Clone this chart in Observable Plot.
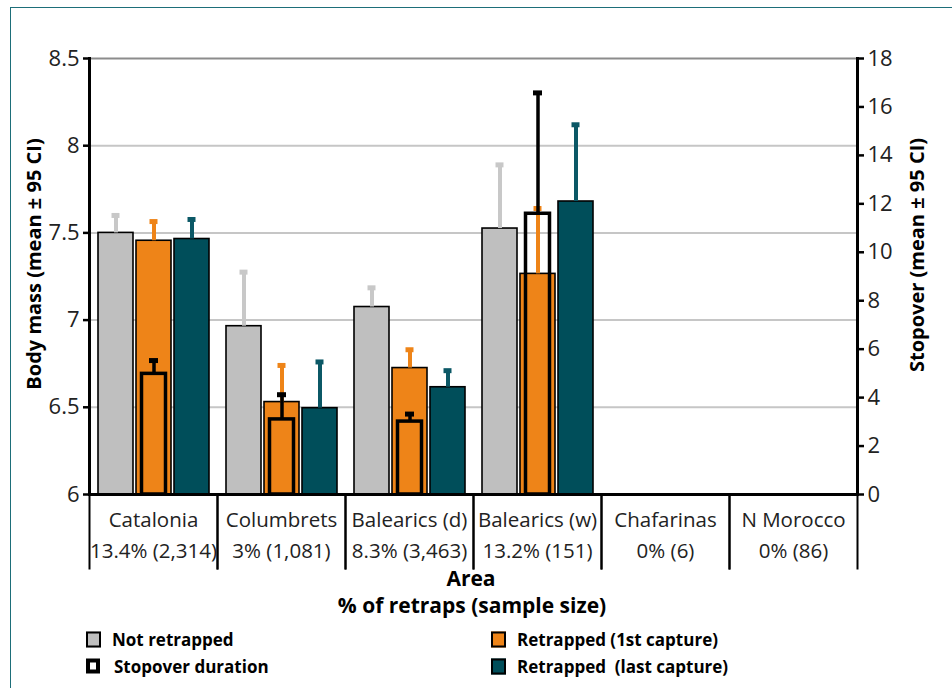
<!DOCTYPE html>
<html>
<head>
<meta charset="utf-8">
<script src="https://cdn.jsdelivr.net/npm/d3@7"></script>
<script src="https://cdn.jsdelivr.net/npm/@observablehq/plot@0.6"></script>
<style>
  html, body { margin: 0; padding: 0; background: #fff; }
  #wrap { position: relative; width: 952px; height: 688px; overflow: hidden; font-family: "Open Sans", sans-serif; }
  #border { position: absolute; left: 10px; top: 7px; width: 960px; height: 700px; border: 1.5px solid #1d6e79; box-sizing: border-box; }
  #chart { position: absolute; left: 0; top: 0; }
  .ttl { position: absolute; font-weight: 700; color: #000; white-space: nowrap; transform: translate(-50%, -50%); }
  .rot { transform: translate(-50%, -50%) rotate(-90deg); }
  .leg { position: absolute; display: flex; align-items: center; font-weight: 700; font-size: 17px; color: #000; white-space: nowrap; transform: translateY(-50%); }
  .sw { width: 15px; height: 16px; box-sizing: border-box; border: 2px solid #000; margin-right: 11px; }
</style>
</head>
<body>
<div id="wrap">
  <div id="border"></div>
  <div id="chart"></div>
  <div class="ttl rot" style="left:33px; top:264px; font-size:20px;">Body mass (mean ± 95 CI)</div>
  <div class="ttl rot" style="left:916px; top:255px; font-size:20px;">Stopover (mean ± 95 CI)</div>
  <div class="ttl" style="left:471px; top:578px; font-size:21px;">Area</div>
  <div class="ttl" style="left:472px; top:605px; font-size:21px;">% of retraps (sample size)</div>
  <div id="legend"></div>
</div>
<script>
// ---- data ----
const areas = ["Catalonia", "Columbrets", "Balearics (d)", "Balearics (w)", "Chafarinas", "N Morocco"];
const retraps = ["13.4% (2,314)", "3% (1,081)", "8.3% (3,463)", "13.2% (151)", "0% (6)", "0% (86)"];
const seriesNames = ["Not retrapped", "Retrapped (1st capture)", "Retrapped  (last capture)"];
const seriesColors = ["#bfbfbf", "#ee8418", "#004e5a"];
const errColors = ["#c8c8c8", "#ee8418", "#0b5866"];

// body mass means and upper 95% CI (no data for Chafarinas, N Morocco)
const notRetrapped      = [7.50, 6.965, 7.075, 7.525, null, null];
const notRetrappedUpper = [7.60, 7.275, 7.185, 7.89, null, null];
const firstCapture      = [7.455, 6.53, 6.725, 7.265, null, null];
const firstCaptureUpper = [7.565, 6.74, 6.83, 7.64, null, null];
const lastCapture       = [7.465, 6.495, 6.615, 7.68, null, null];
const lastCaptureUpper  = [7.577, 6.76, 6.71, 8.12, null, null];
// stopover duration (days) mean and upper 95% CI
const stopover      = [4.98, 3.10, 3.01, 11.59, null, null];
const stopoverUpper = [5.53, 4.12, 3.32, 16.58, null, null];

const massTicks = [6, 6.5, 7, 7.5, 8, 8.5];
const stopTicks = [0, 2, 4, 6, 8, 10, 12, 14, 16, 18];

// ---- derived tables ----
const yMin = 6, yMax = 8.5, sMax = 18;
const toLeft = (s) => s == null ? null : yMin + s * (yMax - yMin) / sMax;
const fromLeft = (v) => Math.round((v - yMin) * sMax / (yMax - yMin));

const means = [notRetrapped, firstCapture, lastCapture];
const uppers = [notRetrappedUpper, firstCaptureUpper, lastCaptureUpper];
const rows = [];
seriesNames.forEach((s, j) => means[j].forEach((m, i) => rows.push({area: areas[i], series: s, mean: m, upper: uppers[j][i], base: m == null ? null : yMin})));
const stopRows = stopover.map((m, i) => ({area: areas[i], series: seriesNames[1], mean: toLeft(m), upper: toLeft(stopoverUpper[i]), base: m == null ? null : yMin}));

const W = 952, H = 575, mT = 58, mB = 81, mL = 88, mR = 95;
const plotH = H - mT - mB;

const chart = Plot.plot({
  width: W, height: H,
  marginTop: mT, marginBottom: mB, marginLeft: mL, marginRight: mR,
  style: {fontFamily: "Open Sans, sans-serif", background: "transparent", overflow: "visible"},
  fx: {domain: areas, padding: 0, label: null},
  x: {domain: seriesNames, paddingInner: 0.08, paddingOuter: 0.22, axis: null},
  y: {domain: [yMin, yMax], label: null},
  color: {domain: seriesNames, range: seriesColors},
  marks: [
    Plot.ruleY(massTicks.slice(1, -1), {stroke: "#c6c6c6", strokeWidth: 2}),
    Plot.ruleY([yMax], {stroke: "#8c8c8c", strokeWidth: 2}),
    Plot.barY(rows, {fx: "area", x: "series", y1: "base", y2: "mean", fill: "series", stroke: "#000", strokeWidth: 1.6}),
    Plot.ruleX(rows, {fx: "area", x: "series", y1: "mean", y2: "upper", stroke: (d) => errColors[seriesNames.indexOf(d.series)], strokeWidth: 4}),
    Plot.tickY(rows, {fx: "area", x: "series", y: "upper", stroke: (d) => errColors[seriesNames.indexOf(d.series)], strokeWidth: 5, insetLeft: 13.5, insetRight: 13.5}),
    Plot.barY(stopRows, {fx: "area", x: "series", y1: "base", y2: "mean", fill: "none", stroke: "#000", strokeWidth: 3.5, insetLeft: 5.5, insetRight: 5.5}),
    Plot.ruleX(stopRows, {fx: "area", x: "series", y1: "mean", y2: "upper", stroke: "#000", strokeWidth: 3.5}),
    Plot.tickY(stopRows, {fx: "area", x: "series", y: "upper", stroke: "#000", strokeWidth: 5, insetLeft: 13, insetRight: 13}),
    Plot.ruleY([yMin], {stroke: "#000", strokeWidth: 3}),
    Plot.frame({anchor: "left", facetAnchor: "left", stroke: "#000", strokeWidth: 3, strokeOpacity: 1}),
    Plot.frame({anchor: "right", facetAnchor: "right", stroke: "#000", strokeWidth: 3, strokeOpacity: 1}),
    Plot.frame({anchor: "left", insetTop: plotH, insetBottom: -74, stroke: "#000", strokeWidth: 2, strokeOpacity: 1}),
    Plot.frame({anchor: "right", insetTop: plotH, insetBottom: -74, stroke: "#000", strokeWidth: 2, strokeOpacity: 1}),
    Plot.axisY(massTicks, {anchor: "left", facetAnchor: "left", tickSize: 6, tickPadding: 4, strokeWidth: 2.5, stroke: "#000", fill: "#222", fontSize: 22, tickFormat: (d) => String(d), label: null}),
    Plot.axisY(stopTicks.map(toLeft), {anchor: "right", facetAnchor: "right", tickSize: 6, tickPadding: 4, strokeWidth: 2.5, stroke: "#000", fill: "#222", fontSize: 22, tickFormat: (d) => String(fromLeft(d)), label: null}),
    Plot.axisFx({anchor: "bottom", tickSize: 0, tickPadding: 11, fontSize: 20.5, lineHeight: 1.5, fill: "#222", tickFormat: (d) => d + "\n" + retraps[areas.indexOf(d)], label: null})
  ]
});
document.getElementById("chart").appendChild(chart);

// ---- legend ----
const legendItems = [
  {label: seriesNames[0], x: 86, y: 639, kind: "fill", color: seriesColors[0]},
  {label: "Stopover duration", x: 86, y: 666, kind: "stop"},
  {label: "Retrapped (1st capture)", x: 491, y: 639, kind: "fill", color: seriesColors[1]},
  {label: seriesNames[2], x: 491, y: 666, kind: "fill", color: seriesColors[2]}
];
const leg = document.getElementById("legend");
legendItems.forEach((it) => {
  const d = document.createElement("div");
  d.className = "leg";
  d.style.left = it.x + "px";
  d.style.top = it.y + "px";
  const sw = document.createElement("div");
  sw.className = "sw";
  if (it.kind === "fill") sw.style.background = it.color;
  else { sw.style.background = "#fff"; sw.style.border = "4px solid #000"; sw.style.width = "14px"; sw.style.height = "15px"; sw.style.marginRight = "14px"; }
  const t = document.createElement("span");
  t.textContent = it.label;
  t.style.whiteSpace = "pre";
  d.appendChild(sw); d.appendChild(t);
  leg.appendChild(d);
});
</script>
</body>
</html>
